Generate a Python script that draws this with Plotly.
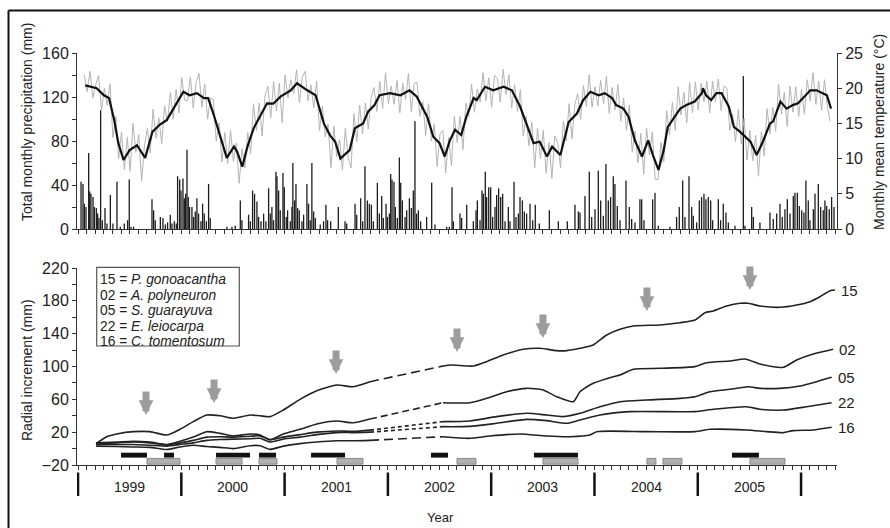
import plotly.graph_objects as go

FONT = "Liberation Sans, Arial, sans-serif"
INK = "#222222"
X_RANGE = [1998.99, 2006.348]

# ---------------- TOP PANEL DATA ----------------
# daily-type temperature (grey trace), ~10-day resolution, starting at year + 0.06
temp_gray_1999 = [21.9,19.5,22.4,18.6,20.5,21.8,16.9,20.0,17.6,20.6,13.0,16.0,10.0,13.8,8.4,13.0,8.2,15.0,10.9,13.4,6.8,11.8,14.3,10.8,17.0,12.9,15.8,12.1,17.5,15.2,19.4,15.6,19.8,16.5,21.5,18.3]
temp_gray_2000 = [18.2,21.6,17.2,20.8,22.1,17.3,20.6,15.6,18.6,18.4,12.5,15.1,9.5,13.7,9.3,14.0,9.6,12.2,6.5,11.4,8.7,13.7,10.7,17.8,14.0,17.9,13.2,18.9,20.3,15.8,20.9,16.8,20.7,15.1,21.9,18.6]
temp_gray_2001 = [21.2,19.2,22.6,17.9,21.6,22.4,18.2,20.5,17.2,21.0,14.0,17.5,13.1,14.9,8.7,14.6,10.3,12.7,8.4,14.3,10.1,8.7,16.4,12.4,17.6,13.5,17.9,14.2,18.6,20.1,16.7,21.0,17.1,22.2,17.8,20.3]
temp_gray_2002 = [17.7,21.1,16.5,20.7,18.4,22.1,16.6,20.7,20.8,16.0,18.1,13.3,17.8,12.5,14.9,8.9,13.5,14.0,8.0,13.0,9.0,16.0,12.3,16.0,11.3,17.9,16.0,20.6,16.6,19.9,18.0,22.2,18.2,21.5,17.3,21.8]
temp_gray_2003 = [21.4,18.0,22.7,19.1,21.9,17.2,20.5,16.7,19.8,13.2,16.0,11.8,15.2,8.7,14.3,10.0,14.0,7.9,12.3,7.2,13.2,12.3,8.7,15.3,12.5,17.8,12.8,17.7,19.2,15.6,20.4,17.4,21.9,17.3,20.2,17.5]
temp_gray_2004 = [21.1,17.8,21.7,16.4,20.1,16.9,20.5,15.3,18.6,14.0,17.6,10.9,13.9,9.4,13.6,7.8,14.3,10.5,13.8,7.1,7.0,12.3,9.5,16.8,13.4,18.0,14.0,20.2,16.2,19.4,15.1,20.8,16.5,20.9,16.9,20.7]
temp_gray_2005 = [18.1,21.0,16.5,21.0,18.1,21.3,16.8,20.3,20.0,14.0,16.3,12.4,17.0,12.1,15.7,9.8,14.0,9.7,13.3,7.5,13.8,10.4,17.1,13.5,17.3,13.9,20.6,16.3,19.4,14.6,20.3,16.6,20.2,16.0,19.8,16.3]
temp_gray_2006 = [21.2,18.2,22.2,17.7,21.0,16.8,21.2,17.4,15.3]

# smoothed temperature (black trace)
smooth_year = [1999.07,1999.18,1999.25,1999.30,1999.35,1999.39,1999.44,1999.50,1999.57,1999.60,1999.65,1999.72,1999.79,1999.86,1999.91,1999.96,
               2000.02,2000.08,2000.15,2000.22,2000.26,2000.31,2000.38,2000.44,2000.51,2000.54,2000.59,2000.64,2000.70,2000.76,2000.83,2000.89,2000.96,
               2001.06,2001.12,2001.22,2001.30,2001.38,2001.44,2001.49,2001.54,2001.63,2001.68,2001.76,2001.81,2001.87,2001.92,
               2002.02,2002.12,2002.21,2002.28,2002.38,2002.44,2002.50,2002.55,2002.60,2002.65,2002.71,2002.76,2002.83,2002.86,2002.94,
               2003.02,2003.12,2003.20,2003.28,2003.34,2003.41,2003.47,2003.54,2003.59,2003.67,2003.75,2003.83,2003.89,2003.96,
               2004.04,2004.10,2004.17,2004.21,2004.28,2004.33,2004.39,2004.46,2004.52,2004.57,2004.62,2004.67,2004.71,2004.78,2004.83,2004.89,2004.97,
               2005.04,2005.05,2005.08,2005.13,2005.18,2005.23,2005.30,2005.35,2005.41,2005.46,2005.51,2005.57,2005.63,2005.70,2005.73,2005.80,2005.86,2005.92,2005.97,
               2006.02,2006.09,2006.15,2006.20,2006.25,2006.29]
smooth_temp = [20.4,20.0,19.0,18.6,15.5,12.2,9.8,11.2,11.9,11.2,10.1,13.8,14.8,15.5,16.7,18.1,
               19.5,19.0,19.3,18.6,18.6,16.4,13.1,10.1,11.7,11.0,8.85,11.7,14.3,15.95,17.85,17.8,18.8,
               19.7,20.7,19.7,19.0,15.0,13.3,12.4,10.0,11.2,14.3,15.0,16.7,17.6,19.0,
               19.3,19.0,19.7,18.8,15.95,13.1,12.2,10.3,12.6,14.1,13.35,15.95,18.6,18.3,20.2,
               19.7,20.2,19.7,17.4,15.0,12.2,12.4,10.3,11.7,10.5,15.2,16.4,18.3,19.5,
               19.0,19.3,18.6,17.6,17.1,15.95,12.6,10.3,12.6,10.3,8.4,11.2,14.5,15.95,17.1,17.6,18.1,
               19.3,20.0,19.0,18.3,19.3,19.3,17.4,14.5,13.8,13.1,12.4,10.5,12.4,15.0,15.3,18.1,17.1,17.6,17.85,
               18.6,19.7,19.7,19.3,19.0,17.1]

# precipitation events (mm)
precip_year = [1999.029,1999.048,1999.061,1999.077,1999.103,1999.113,1999.125,1999.145,1999.158,1999.177,1999.190,1999.203,1999.219,1999.235,1999.261,1999.280,1999.313,1999.338,1999.377,1999.409,1999.448,1999.480,1999.496,1999.513,1999.538,
               1999.716,1999.732,1999.748,1999.797,1999.822,1999.845,1999.867,1999.893,1999.909,1999.932,1999.951,1999.964,1999.984,1999.997,
               2000.016,2000.029,2000.042,2000.055,2000.067,2000.080,2000.103,2000.119,2000.135,2000.151,2000.167,2000.190,2000.206,2000.222,2000.242,2000.264,2000.280,2000.442,2000.490,2000.522,2000.571,2000.587,2000.651,2000.668,2000.690,2000.709,2000.732,2000.748,2000.771,2000.797,2000.819,2000.845,2000.861,2000.877,2000.893,2000.916,2000.926,2000.942,2000.958,2000.984,2000.997,
               2001.016,2001.029,2001.055,2001.071,2001.080,2001.097,2001.110,2001.126,2001.142,2001.168,2001.184,2001.216,2001.232,2001.248,2001.264,2001.281,2001.297,2001.345,2001.377,2001.400,2001.416,
               2001.446,2001.520,2001.585,2001.601,2001.682,2001.698,2001.736,2001.756,2001.778,2001.801,2001.820,2001.840,2001.859,2001.898,2001.917,2001.940,2001.956,2001.982,2001.995,
               2002.014,2002.027,2002.040,2002.059,2002.072,2002.091,2002.111,2002.124,2002.140,2002.166,2002.182,2002.208,2002.227,2002.246,2002.262,2002.278,2002.295,2002.317,2002.375,2002.424,2002.456,2002.569,2002.595,2002.621,2002.634,2002.698,2002.714,2002.763,2002.827,2002.853,2002.866,2002.892,2002.911,2002.924,2002.943,2002.956,2002.976,2002.995,
               2003.014,2003.037,2003.053,2003.072,2003.092,2003.111,2003.134,2003.166,2003.182,2003.221,2003.240,2003.263,2003.279,2003.302,2003.321,2003.343,2003.376,2003.402,2003.427,2003.466,2003.563,2003.650,2003.737,2003.811,2003.844,
               2003.860,2003.908,2003.950,2003.973,2004.005,2004.037,2004.060,2004.086,2004.111,2004.134,2004.156,2004.182,2004.198,2004.221,2004.247,2004.305,2004.337,2004.360,2004.392,2004.440,2004.457,2004.479,2004.563,2004.586,2004.618,2004.731,2004.795,2004.821,2004.854,2004.876,2004.915,2004.941,2004.957,2004.989,
               2005.015,2005.037,2005.060,2005.079,2005.102,2005.125,2005.144,2005.199,2005.221,2005.247,2005.273,2005.296,2005.360,2005.441,2005.457,2005.522,2005.538,2005.602,2005.699,2005.731,2005.764,2005.796,2005.818,2005.844,2005.867,2005.893,2005.925,2005.941,2005.964,2005.983,
               2006.006,2006.028,2006.047,2006.070,2006.086,2006.119,2006.135,2006.167,2006.190,2006.215,2006.231,2006.248,2006.273,2006.296,2006.319]
precip_mm = [43,41,23,20,69,34,32,29,20,19,14,10,108,8,19,5,31,5,43,2,5,8,45,2,2,
             27,17,8,11,10,4,6,13,5,7,5,48,45,35,
             46,28,32,72,29,20,20,11,16,28,14,7,23,14,7,41,10,2,2,3,26,8,13,7,35,32,25,11,7,14,7,37,14,20,8,52,48,35,17,51,38,
             11,17,7,20,60,26,41,19,17,7,13,41,23,8,60,16,10,4,7,22,8,
             7,20,7,5,23,13,28,7,57,26,23,22,7,42,14,30,10,23,11,
             14,50,45,43,20,10,65,42,26,11,17,28,19,35,98,14,17,7,11,42,4,2,2,38,7,14,10,22,7,17,26,8,35,32,52,29,38,38,
             11,20,31,37,29,32,7,20,7,43,11,14,29,26,16,14,23,8,22,5,17,7,7,22,16,
             15,30,52,11,18,53,26,12,59,26,29,48,41,21,8,44,20,9,6,27,27,8,27,33,3,2,11,20,44,11,48,20,12,6,
             26,29,32,27,29,26,8,27,8,23,15,6,3,139,3,20,11,6,15,9,14,23,11,18,27,14,30,33,33,21,
             17,15,44,26,8,18,32,41,20,17,26,21,18,29,20]

# ---------------- BOTTOM PANEL DATA (radial increment, mm) ----------------
s15_year = [1999.174,1999.278,1999.375,1999.535,1999.697,1999.859,1999.987,2000.116,2000.246,2000.375,2000.503,2000.665,2000.762,2000.859,2000.987,2001.149,2001.311,2001.504,2001.665,2001.827,
            2002.504,2002.601,2002.827,2002.956,2003.117,2003.311,2003.472,2003.634,2003.731,2003.860,2003.988,2004.118,2004.247,2004.376,2004.634,2004.828,2004.973,2005.070,2005.150,2005.280,2005.409,2005.489,2005.602,2005.796,2005.957,2006.086,2006.183,2006.280,2006.328]
s15_val = [6,14.5,17.8,20.6,20.6,16.5,23.5,32.8,40.9,40,36.9,40.9,40,38.9,47,60,70.5,77.5,75.4,81.5,
           99.8,101.8,100.6,105.9,114,121,122.2,119.3,119.3,122.2,126.2,138.4,145.3,149.4,150.6,153.4,156.7,165.6,167.6,173.7,177,177,173.7,172.1,174.9,179,185,192.4,193.2]

early_year = [1999.174,1999.375,1999.535,1999.697,1999.859,1999.987,2000.116,2000.246,2000.375,2000.503,2000.665,2000.762,2000.859,2000.987,2001.149,2001.311,2001.504,2001.665,2001.827]
s02_year = early_year + [2002.533,2002.795,2002.956,2003.150,2003.344,2003.504,2003.634,2003.795,2003.860,2003.988,2004.182,2004.247,2004.376,2004.634,2004.973,2005.086,2005.312,2005.457,2005.602,2005.828,2005.957,2006.118,2006.311]
s02_val = [7,8,9,8,5,9,14,20.6,18.5,15.3,17.8,16.5,10.5,17.8,23.5,30,33.6,31.5,36,
           55.9,55.9,61.2,69.3,73.4,71.4,63.2,57.1,69.3,79.5,87.6,89.6,96.6,97.8,99.8,104.6,106.7,109.1,103.0,99.0,107.9,115.2,121]
s05_year = early_year + [2002.533,2002.795,2003.053,2003.344,2003.537,2003.698,2003.860,2004.053,2004.247,2004.505,2004.828,2004.973,2005.118,2005.312,2005.489,2005.602,2005.796,2005.989,2006.150,2006.296]
s05_val = [6,7,8,7,4.5,7,10,14,14.5,14,15,15.5,11,14,17,20,21.5,21,22.5,
           32.8,33.6,38.9,43,40.9,38.9,43,51,57.1,59.2,61.2,63.2,69.3,72.2,75.4,73.4,73.4,76.2,81.5,86.8]
s22_year = early_year + [2002.533,2002.795,2003.053,2003.344,2003.537,2003.731,2003.860,2004.053,2004.344,2004.973,2005.150,2005.473,2005.602,2005.828,2006.054,2006.296]
s22_val = [5,5,5,4,3,5,7,10,11,11.5,12,12.5,8,11.5,14,17,19.5,19.5,20,
           26.7,27,30.8,35.6,34,30.8,34.8,40.9,45,45,47.9,51,47.9,47,51,55.9]
s16_year = early_year + [2002.533,2002.795,2002.988,2003.279,2003.537,2003.763,2003.956,2004.021,2004.505,2004.973,2005.118,2005.473,2005.667,2005.828,2005.925,2006.118,2006.296]
s16_val = [3,2.5,2,1.5,-1.2,2,4,2.5,1.5,0,3.5,3.5,-1,3,6,8,9.5,9.5,10,
           14.5,12.5,15.3,17.8,15.3,14.5,16.5,20.6,20.6,20.6,23.5,22.6,20.6,19.4,21.9,22.6,25.9]

series_names = ["15", "02", "05", "22", "16"]
series_dash = ["9px,5px", "7px,4px", "4px,3px", "4px,3px", "9px,5px"]

legend_lines = ["15 = <i>P. gonoacantha</i>", "02 = <i>A. polyneuron</i>", "05 = <i>S. guarayuva</i>",
                "22 = <i>E. leiocarpa</i>", "16 = <i>C. tomentosum</i>"]

arrow_year = [1999.658, 2000.317, 2001.498, 2002.669, 2003.501, 2004.508, 2005.505]
arrow_tip = [40.9, 55.5, 90.9, 117.7, 134.7, 167.6, 193.2]

black_start = [1999.416, 1999.833, 2000.336, 2000.752, 2001.256, 2002.417, 2003.414, 2005.331]
black_end = [1999.668, 1999.929, 2000.665, 2000.917, 2001.585, 2002.582, 2003.840, 2005.592]
gray_start = [1999.668, 2000.336, 2000.752, 2001.507, 2002.669, 2003.501, 2004.508, 2004.663, 2005.505]
gray_end = [1999.987, 2000.588, 2000.926, 2001.759, 2002.853, 2003.840, 2004.595, 2004.847, 2005.844]
BLACK_BAR_LEVEL = -8.0
GRAY_BAR_LEVEL = -15.5

year_bounds = [1999, 2000, 2001, 2002, 2003, 2004, 2005, 2006]
year_labels = ["1999", "2000", "2001", "2002", "2003", "2004", "2005"]

# ---------------- FIGURE ----------------
W, H = 890, 528
PAGE_L, PAGE_R, PAGE_T, PAGE_B = 77, 837, 53, 465
PLOT_H = PAGE_B - PAGE_T
PLOT_W = PAGE_R - PAGE_L


def pxx(p):  # page x pixel -> paper x
    return (p - PAGE_L) / PLOT_W


def pxy(p):  # page y pixel -> paper y
    return (PAGE_B - p) / PLOT_H


fig = go.Figure()

# grey temperature
gx, gy = [], []
for yr, row in [(1999, temp_gray_1999), (2000, temp_gray_2000), (2001, temp_gray_2001), (2002, temp_gray_2002),
                (2003, temp_gray_2003), (2004, temp_gray_2004), (2005, temp_gray_2005), (2006, temp_gray_2006)]:
    for j, v in enumerate(row):
        gx.append(yr + 0.06 + j / 36.0)
        gy.append(v)

# precipitation bars (left axis)
px_, py_ = [], []
for x, v in zip(precip_year, precip_mm):
    px_ += [x, x, None]
    py_ += [0, v, None]
fig.add_trace(go.Scatter(x=px_, y=py_, mode="lines", line=dict(color="#1c1c1c", width=1.3),
                         xaxis="x", yaxis="y", showlegend=False, hoverinfo="skip"))
fig.add_trace(go.Scatter(x=gx, y=gy, mode="lines", line=dict(color="#b4b4b4", width=1),
                         xaxis="x", yaxis="y2", showlegend=False))
fig.add_trace(go.Scatter(x=smooth_year, y=smooth_temp, mode="lines", line=dict(color="#111111", width=2.2),
                         xaxis="x", yaxis="y2", showlegend=False))

# phenology bars
fig.add_trace(go.Bar(orientation="h", base=black_start, x=[e - s for s, e in zip(black_start, black_end)],
                     y=[BLACK_BAR_LEVEL] * len(black_start), width=6, marker=dict(color="#111111", line=dict(width=0)),
                     xaxis="x2", yaxis="y3", showlegend=False))
fig.add_trace(go.Bar(orientation="h", base=gray_start, x=[e - s for s, e in zip(gray_start, gray_end)],
                     y=[GRAY_BAR_LEVEL] * len(gray_start), width=7, marker=dict(color="#b0b0b0", line=dict(color="#8a8a8a", width=1)),
                     xaxis="x2", yaxis="y3", showlegend=False))

annotations = []
series = [(s15_year, s15_val), (s02_year, s02_val), (s05_year, s05_val), (s22_year, s22_val), (s16_year, s16_val)]
for (xs, ys), name, dash in zip(series, series_names, series_dash):
    cut = next(i for i in range(1, len(xs)) if xs[i] - xs[i - 1] > 0.3)
    fig.add_trace(go.Scatter(x=xs[:cut], y=ys[:cut], mode="lines", line=dict(color=INK, width=1.6, shape="spline", smoothing=0.6),
                             xaxis="x2", yaxis="y3", showlegend=False))
    fig.add_trace(go.Scatter(x=xs[cut - 1:cut + 1], y=ys[cut - 1:cut + 1], mode="lines", line=dict(color=INK, width=1.6, dash=dash),
                             xaxis="x2", yaxis="y3", showlegend=False))
    fig.add_trace(go.Scatter(x=xs[cut:], y=ys[cut:], mode="lines", line=dict(color=INK, width=1.6, shape="spline", smoothing=0.6),
                             xaxis="x2", yaxis="y3", showlegend=False))
    annotations.append(dict(x=xs[-1], y=ys[-1], xref="x2", yref="y3", text=name, showarrow=False,
                            xanchor="left", yanchor="middle", xshift=4, font=dict(size=15, color=INK, family=FONT)))

for x, tip in zip(arrow_year, arrow_tip):
    annotations.append(dict(x=x, y=tip, xref="x2", yref="y3", ax=0, ay=-25, text="", showarrow=True,
                            arrowhead=2, arrowwidth=7, arrowsize=0.42, arrowcolor="#9c9c9c"))

for lab, yr in zip(year_labels, year_bounds):
    annotations.append(dict(x=yr + 0.5, y=pxy(487), xref="x2", yref="paper", text=lab, showarrow=False,
                            xanchor="center", yanchor="middle", font=dict(size=14, color=INK, family=FONT)))

shapes = []
for yr in year_bounds:
    shapes.append(dict(type="line", xref="x2", yref="paper", x0=yr, x1=yr, y0=pxy(472.5), y1=pxy(496),
                       line=dict(color="#111111", width=2.5)))

# legend box
shapes.append(dict(type="rect", xref="paper", yref="paper", x0=pxx(96.7), x1=pxx(239.3), y0=pxy(346), y1=pxy(267.3),
                   line=dict(color="#555555", width=1.2), fillcolor="white", layer="below"))
for k, t in enumerate(legend_lines):
    annotations.append(dict(x=pxx(99), y=pxy(279.5 + 15.6 * k), xref="paper", yref="paper", text=t,
                            showarrow=False, xanchor="left", yanchor="middle", borderpad=0,
                            font=dict(size=13.8, color=INK, family=FONT)))

# outer frame (top and left edges visible)
shapes.append(dict(type="line", xref="paper", yref="paper", x0=pxx(8.5), x1=pxx(900), y0=pxy(10.5), y1=pxy(10.5),
                   line=dict(color="#111111", width=2)))
shapes.append(dict(type="line", xref="paper", yref="paper", x0=pxx(8.5), x1=pxx(8.5), y0=pxy(10.5), y1=pxy(540),
                   line=dict(color="#111111", width=2)))

# axis titles
annotations += [
    dict(x=pxx(27), y=pxy(122), xref="paper", yref="paper", text="Total monthly precipitation (mm)", textangle=-90,
         xanchor="center", yanchor="middle", showarrow=False, font=dict(size=14, color=INK, family=FONT)),
    dict(x=pxx(879), y=pxy(132), xref="paper", yref="paper", text="Monthly mean temperature (°C)", textangle=-90,
         xanchor="center", yanchor="middle", showarrow=False, font=dict(size=14, color=INK, family=FONT)),
    dict(x=pxx(27), y=pxy(370), xref="paper", yref="paper", text="Radial increment (mm)", textangle=-90,
         xanchor="center", yanchor="middle", showarrow=False, font=dict(size=14, color=INK, family=FONT)),
    dict(x=pxx(440), y=pxy(517), xref="paper", yref="paper", text="Year", showarrow=False,
         xanchor="center", yanchor="middle", font=dict(size=13, color=INK, family=FONT)),
]

axis_common = dict(showgrid=False, zeroline=False, showline=True, linecolor="#333333", linewidth=1,
                   ticks="outside", tickcolor="#333333", tickfont=dict(size=16, color=INK, family=FONT))
xaxis_common = dict(axis_common, range=X_RANGE, tick0=1999, dtick=1 / 12, ticklen=4, showticklabels=False)

fig.update_layout(
    width=W, height=H,
    margin=dict(l=PAGE_L, r=W - PAGE_R, t=PAGE_T, b=H - PAGE_B),
    paper_bgcolor="white", plot_bgcolor="white", showlegend=False, barmode="overlay",
    font=dict(family=FONT, color=INK),
    xaxis=dict(xaxis_common, domain=[0, 1], anchor="y"),
    xaxis2=dict(xaxis_common, domain=[0, 1], anchor="y3"),
    yaxis=dict(axis_common, domain=[pxy(229), 1], range=[0, 160], tick0=0, dtick=40, ticklen=4,
               minor=dict(dtick=20, ticks="outside", ticklen=4, tickcolor="#333333")),
    yaxis2=dict(axis_common, overlaying="y", side="right", anchor="x", range=[0, 25], tick0=0, dtick=5, ticklen=4),
    yaxis3=dict(axis_common, domain=[0, pxy(268)], anchor="x2", range=[-20, 220], tick0=-20, dtick=40, ticklen=4,
                minor=dict(dtick=20, ticks="outside", ticklen=4, tickcolor="#333333")),
    annotations=annotations, shapes=shapes,
)

fig.write_html(
    "out.html",
    config={"displayModeBar": False},
    post_script="document.documentElement.style.margin='0';document.body.style.margin='0';"
                "document.body.style.overflow='hidden';document.documentElement.style.overflow='hidden';",
)
